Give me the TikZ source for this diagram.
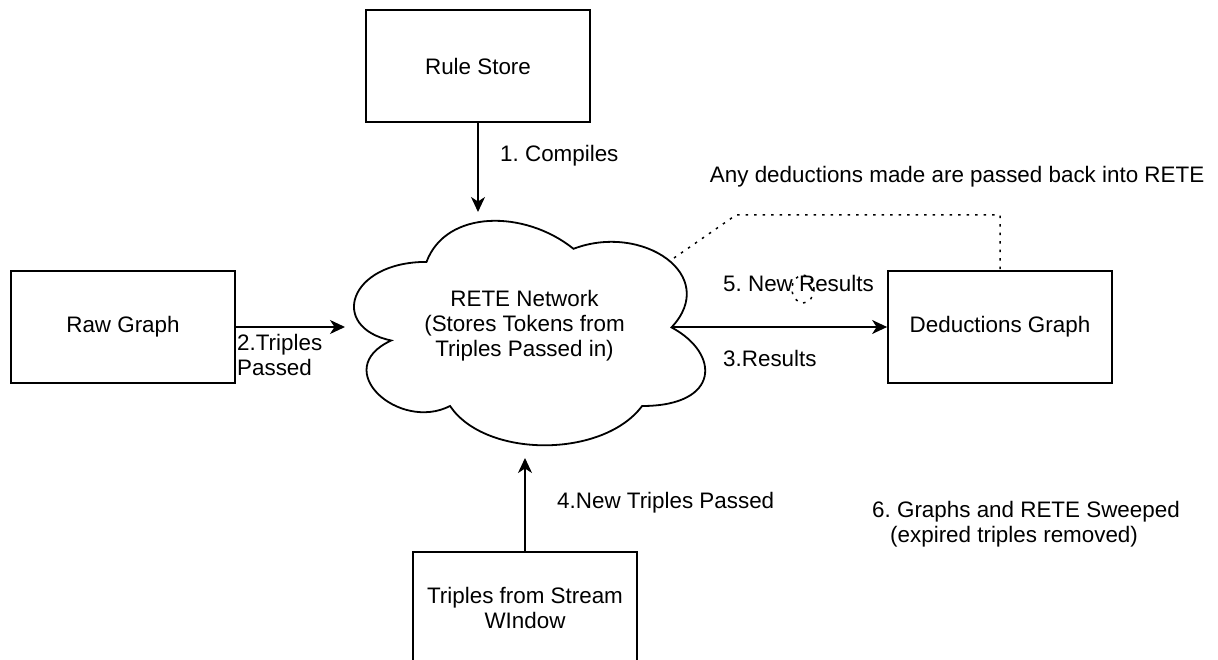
\documentclass[tikz,border=0pt]{standalone}
\usepackage{fontspec}
\setmainfont{Liberation Sans}
\usetikzlibrary{arrows.meta}
\begin{document}
\frenchspacing
\begin{tikzpicture}[x=1pt,y=-1pt,
  every node/.style={font=\fontsize{22.4}{25}\selectfont, inner sep=0pt},
  box/.style={draw, line width=1.8pt, minimum width=224pt, minimum height=112pt, align=center},
  arr/.style={line width=1.8pt, -{Stealth[length=15pt,width=14pt,inset=4.5pt]}},
  dotline/.style={line width=1.5pt, dash pattern=on 2.5pt off 6pt},
  cloudline/.style={draw, line width=1.8pt}]
\useasboundingbox (0,0) rectangle (1218,660);

% cloud
\begin{scope}[shift={(328.5,196.4)},xscale=392,yscale=262]
\path[cloudline] (0.25,0.25) .. controls (0.05,0.25) and (0,0.5) .. (0.16,0.55)
  .. controls (0,0.66) and (0.18,0.9) .. (0.31,0.8)
  .. controls (0.4,1) and (0.7,1) .. (0.8,0.8)
  .. controls (1,0.8) and (1,0.6) .. (0.875,0.5)
  .. controls (1,0.3) and (0.8,0.1) .. (0.625,0.2)
  .. controls (0.5,0.05) and (0.3,0.05) .. (0.25,0.25) -- cycle;
\end{scope}
\node[align=center] (rete) at (524.5,326) {RETE Network\\(Stores Tokens from\\Triples Passed in)};

% boxes
\node[box] (rule) at (478,66) {Rule Store};
\node[box] (raw) at (123,327) {Raw Graph};
\node[box] (ded) at (1000,327) {Deductions Graph};
\node[box] (stream) at (525,608) {Triples from Stream\\WIndow};

% connection points on the cloud
\coordinate (reteN) at (478,212);
\coordinate (reteW) at (345,327);
\coordinate (reteE) at (672,327);
\coordinate (reteS) at (525,458);
\coordinate (reteNE) at (674,258);
\coordinate (bend) at (736,215);

% connectors
\draw[arr] (rule.south) -- (reteN);
\draw[arr] (raw.east) -- (reteW);
\draw[arr] (reteE) -- (ded.west);
\draw[arr] (stream.north) -- (reteS);
\draw[dotline] (reteNE) -- (bend) -| (ded.north);
\draw[dotline] (803,289) ellipse [x radius=11, y radius=14];

% labels
\node[anchor=base west] (l1) at (500,162) {1. Compiles};
\node[anchor=west, align=left] (l2) at (237,354.5) {2.Triples\\Passed};
\node[anchor=base west] (l3) at (723,366) {3.Results};
\node[anchor=base west] (l4) at (557,508) {4.New Triples Passed};
\node[anchor=base west] (l5) at (723,292) {5. New Results};
\node[anchor=west, align=left] (l6) at (872,524) {6. Graphs and RETE Sweeped\\\hspace*{18pt}(expired triples removed)};
\node[anchor=base east] (l7) at (1204.5,183) {Any deductions made are passed back into RETE};
\end{tikzpicture}
\end{document}
